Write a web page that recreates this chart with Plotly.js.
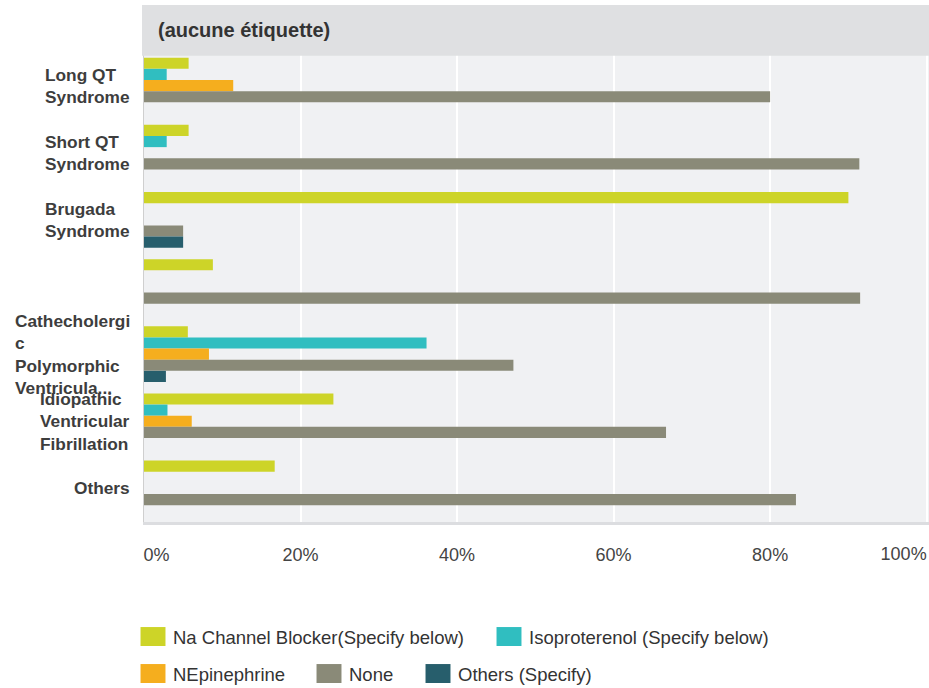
<!DOCTYPE html>
<html>
<head>
<meta charset="utf-8">
<script src="https://cdn.plot.ly/plotly-3.0.1.min.js"></script>
<style>
html,body{margin:0;padding:0;background:#fff;}
#chart{width:929px;height:688px;}
/* enlarge the legend swatches to match the reference's wide blocks */
#chart .legendpoints path { transform: translate(20px, 0px) scale(2.08, 1.58); }
</style>
</head>
<body>
<div id="chart"></div>
<script>
// ---- data ----
var categories = [
  "Long QT<br>Syndrome",
  "Short QT<br>Syndrome",
  "Brugada<br>Syndrome",
  " ",
  "Cathecholergi<br>c<br>Polymorphic<br>Ventricula...",
  "Idiopathic<br>Ventricular<br>Fibrillation",
  "Others"
];
var seriesNames = [
  "Na Channel Blocker(Specify below)",
  "Isoproterenol (Specify below)",
  "NEpinephrine",
  "None",
  "Others (Specify)"
];
var naChannelBlocker = [5.7, 5.7, 90.0, 8.8, 5.6, 24.2, 16.7];
var isoproterenol    = [2.9, 2.9, 0,    0,   36.1, 3.0, 0];
var nepinephrine     = [11.4, 0,  0,    0,   8.3, 6.1, 0];
var none             = [80.0, 91.4, 5.0, 91.5, 47.2, 66.7, 83.3];
var othersSpecify    = [0,    0,   5.0, 0,   2.8, 0,   0];
var tickValues = [0, 20, 40, 60, 80, 100];
var tickLabels = ["0%", "20%", "40%", "60%", "80%", "100%"];
var headerLabel = "(aucune étiquette)";

// ---- styling ----
var colors = ["#cdd428", "#30bec0", "#f5ae1e", "#8a8a78", "#275e6c"];
var FONT = "Liberation Sans, Arial, Helvetica, sans-serif";
var values = [naChannelBlocker, isoproterenol, nepinephrine, none, othersSpecify];
var legendIds = ["legend", "legend2", "legend3", "legend4", "legend5"];

var traces = values.map(function (v, i) {
  return {
    type: "bar",
    orientation: "h",
    name: seriesNames[i],
    x: v,
    y: categories,
    marker: {color: colors[i], line: {width: 0}},
    legend: legendIds[i],
    hoverinfo: "x+name"
  };
});
// empty helper so the overlay axis (last tick label, right-aligned) is drawn
traces.push({type: "scatter", x: [], y: [], xaxis: "x2", yaxis: "y",
             showlegend: false, hoverinfo: "skip"});

var W = 929, H = 688;
var m = {l: 144, r: 0, t: 52, b: 166, autoexpand: false};
var pw = W - m.l - m.r, ph = H - m.t - m.b;
function px(xPix) { return (xPix - m.l) / pw; }
function py(yPix) { return (H - m.b - yPix) / ph; }

// first tick label sits just right of its gridline, as in the reference
var NB = "\u00a0";
function pad(n) { return new Array(n + 1).join(NB); }
var last = tickLabels.length - 1;
var mainTickVals = tickValues.slice(0, last);
var mainTickText = tickLabels.slice(0, last).map(function (t, i) {
  return i === 0 ? pad(5) + t : t;
});

var annotations = [];
categories.forEach(function (c) {
  if (c.trim() === "") return;
  annotations.push({
    xref: "paper", yref: "y", x: px(132), y: c,
    xanchor: "right", yanchor: "middle", align: "left",
    text: c, showarrow: false,
    font: {family: FONT, size: 17.3, color: "#3d3d3d", weight: "bold"}
  });
});
annotations.push({
  xref: "paper", yref: "paper", x: px(156), y: py(30),
  xanchor: "left", yanchor: "middle", text: headerLabel, showarrow: false,
  font: {family: FONT, size: 20, color: "#333333", weight: "bold"}
});

var tickFont = {family: FONT, size: 18, color: "#444444"};
// legend placements (item start x, row center y)
var legendPos = [[133, 637], [489, 637], [133, 674], [309, 674], [418, 674]];
var layout = {
  width: W, height: H,
  margin: m,
  paper_bgcolor: "#ffffff",
  plot_bgcolor: "#f0f1f3",
  barmode: "group",
  bargap: 0.17,
  bargroupgap: 0,
  showlegend: true,
  font: {family: FONT, color: "#444"},
  xaxis: {
    range: [0, 100.3],
    tickvals: mainTickVals,
    ticktext: mainTickText,
    showgrid: true, gridcolor: "#ffffff", gridwidth: 2,
    zeroline: false,
    showline: true, linecolor: "#dcdde0", linewidth: 3,
    ticks: "", ticklabelstandoff: 14,
    tickfont: tickFont,
    fixedrange: true
  },
  xaxis2: {
    overlaying: "x", matches: "x", anchor: "y", side: "bottom",
    tickvals: [tickValues[last]], ticktext: [tickLabels[last]],
    ticklabelposition: "outside left",
    showgrid: true, gridcolor: "#ffffff", gridwidth: 2,
    zeroline: false, showline: false,
    ticks: "", ticklabelstandoff: 19,
    tickfont: tickFont,
    fixedrange: true
  },
  yaxis: {
    type: "category",
    categoryorder: "array", categoryarray: categories,
    autorange: "reversed",
    showticklabels: false,
    showgrid: false, zeroline: false,
    showline: true, linecolor: "#cfcfcf", linewidth: 1,
    ticks: "",
    fixedrange: true
  },
  shapes: [{
    type: "rect", xref: "paper", yref: "paper",
    x0: px(142), x1: 1, y0: py(55.7), y1: py(5),
    fillcolor: "#dfe0e2", line: {width: 0}, layer: "above"
  }],
  annotations: annotations
};
legendIds.forEach(function (id, i) {
  layout[id] = {
    x: px(legendPos[i][0]), y: py(legendPos[i][1]),
    xanchor: "left", yanchor: "middle",
    orientation: "h",
    bgcolor: "rgba(0,0,0,0)", borderwidth: 0,
    font: {family: FONT, size: 18.5, color: "#333333"}
  };
});

Plotly.newPlot("chart", traces, layout, {displayModeBar: false, staticPlot: true});
</script>
</body>
</html>
